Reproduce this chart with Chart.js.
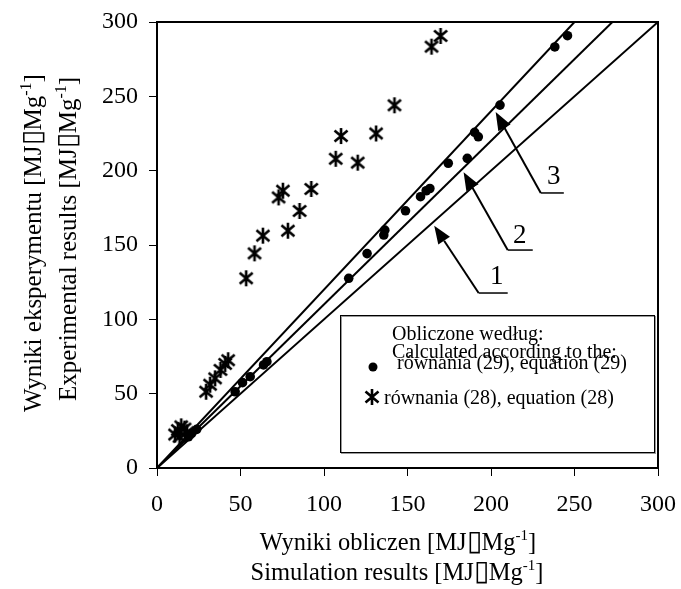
<!DOCTYPE html>
<html>
<head>
<meta charset="utf-8">
<script src="https://cdn.jsdelivr.net/npm/chart.js@4/dist/chart.umd.min.js"></script>
<style>
  html, body { margin: 0; padding: 0; background: #fff; }
  #wrap { width: 681px; height: 589px; }
</style>
</head>
<body>
<div id="wrap"><canvas id="chart" width="681" height="589"></canvas></div>
<script>
// --- dane: równanie (29) ---
const calc29X = [245.8, 238.2, 205.4, 190.2, 192.4, 185.8, 174.4, 163.4, 161.2, 157.8, 148.8, 136.4, 135.8, 125.8, 114.8, 65.8, 63.8, 55.8, 51.2, 46.8, 23.8, 20.8, 18.8];
const calc29Y = [290.8, 283.2, 244.1, 225.8, 222.8, 208.3, 205.0, 188.0, 186.5, 182.5, 173.0, 160.0, 156.7, 144.2, 127.6, 71.5, 69.3, 61.4, 57.4, 51.3, 26.0, 23.3, 21.0];

// --- dane: równanie (28) ---
const calc28X = [169.8, 164.4, 142.2, 131.2, 110.2, 107.0, 120.2, 92.4, 75.4, 72.8, 85.4, 78.4, 63.4, 58.4, 53.4, 42.6, 40.8, 38.0, 34.8, 31.8, 29.4, 10.8, 12.5, 14.5, 16.5, 18.0, 13.5];
const calc28Y = [290.6, 283.4, 244.0, 225.0, 223.3, 208.0, 205.4, 187.7, 186.5, 182.0, 172.9, 159.6, 156.3, 144.4, 127.6, 72.5, 70.0, 66.0, 60.3, 56.0, 51.3, 22.5, 25.5, 28.0, 26.5, 24.0, 21.0];

// proste 1, 2, 3 z początku układu do górnej krawędzi
const lineNames = ['1', '2', '3'];
const lineEndX = [300, 272.7, 250];
const lineEndY = [300, 300, 300];

const axisMin = 0;
const axisMax = 300;
const axisStep = 50;

const SERIF = '"Liberation Serif", "Times New Roman", serif';

// strzałki do prostych (współrzędne w jednostkach osi)
const arrows = [
  { tail: [192.6, 117.7], tip: [166.0, 163.0], shelf: 210.0, label: [203.4, 128.5] },
  { tail: [210.0, 146.6], tip: [183.6, 199.0], shelf: 225.0, label: [217.2, 156.0] },
  { tail: [229.8, 185.0], tip: [202.8, 239.4], shelf: 243.6, label: [237.6, 195.5] },
];

// znacznik gwiazdki
function makeStar() {
  const c = document.createElement('canvas');
  c.width = 18; c.height = 18;
  const g = c.getContext('2d');
  g.strokeStyle = '#000';
  g.lineWidth = 2.6;
  g.beginPath();
  g.moveTo(9, 1); g.lineTo(9, 17);
  g.moveTo(2.5, 3.5); g.lineTo(15.5, 14.5);
  g.moveTo(15.5, 3.5); g.lineTo(2.5, 14.5);
  g.stroke();
  return c;
}
const starImg = makeStar();

// tekst z jednostką [MJ▯Mg^-1]
function unitParts(text, size) {
  return [
    { t: text + ' [MJ', f: size + 'px ' + SERIF, dy: 0 },
    { t: '\u25AF', f: (size + 3) + 'px ' + SERIF, dy: 0 },
    { t: 'Mg', f: size + 'px ' + SERIF, dy: 0 },
    { t: '-1', f: Math.round(size * 0.62) + 'px ' + SERIF, dy: -size * 0.42 },
    { t: ']', f: size + 'px ' + SERIF, dy: 0 },
  ];
}

function drawParts(ctx, parts, cx, baseY) {
  let w = 0;
  parts.forEach(p => { ctx.font = p.f; p.w = ctx.measureText(p.t).width; w += p.w; });
  let x = cx - w / 2;
  ctx.textAlign = 'left';
  ctx.textBaseline = 'alphabetic';
  parts.forEach(p => { ctx.font = p.f; ctx.fillText(p.t, x, baseY + p.dy); x += p.w; });
}

function drawArrow(ctx, x0, y0, x1, y1) {
  const ang = Math.atan2(y1 - y0, x1 - x0);
  const len = 18, half = 7;
  const bx = x1 - len * Math.cos(ang), by = y1 - len * Math.sin(ang);
  ctx.beginPath();
  ctx.moveTo(x0, y0);
  ctx.lineTo(bx, by);
  ctx.stroke();
  ctx.beginPath();
  ctx.moveTo(x1, y1);
  ctx.lineTo(bx + half * Math.sin(ang), by - half * Math.cos(ang));
  ctx.lineTo(bx - half * Math.sin(ang), by + half * Math.cos(ang));
  ctx.closePath();
  ctx.fill();
}

const decor = {
  id: 'decor',
  afterDraw(chart) {
    const ctx = chart.ctx;
    const a = chart.chartArea;
    const sx = chart.scales.x, sy = chart.scales.y;
    ctx.save();
    ctx.fillStyle = '#000';
    ctx.strokeStyle = '#000';

    // ramka wykresu
    ctx.lineWidth = 2;
    ctx.strokeRect(a.left, a.top, a.right - a.left, a.bottom - a.top);

    // strzałki z numerami prostych
    ctx.lineWidth = 2;
    arrows.forEach((ar, i) => {
      const tx = sx.getPixelForValue(ar.tail[0]), ty = sy.getPixelForValue(ar.tail[1]);
      const px = sx.getPixelForValue(ar.tip[0]), py = sy.getPixelForValue(ar.tip[1]);
      drawArrow(ctx, tx, ty, px, py);
      ctx.lineWidth = 1.5;
      ctx.beginPath();
      ctx.moveTo(tx, ty);
      ctx.lineTo(sx.getPixelForValue(ar.shelf), ty);
      ctx.stroke();
      ctx.lineWidth = 2;
      ctx.font = '27px ' + SERIF;
      ctx.textAlign = 'center';
      ctx.textBaseline = 'middle';
      ctx.fillText(lineNames[i], sx.getPixelForValue(ar.label[0]), sy.getPixelForValue(ar.label[1]));
    });

    // legenda
    const lx = 340, ly = 315, lw = 314, lh = 137;
    ctx.fillStyle = '#fff';
    ctx.fillRect(lx, ly, lw, lh);
    ctx.lineWidth = 1;
    ctx.strokeStyle = '#999';
    ctx.strokeRect(lx + 1.5, ly + 1.5, lw, lh);
    ctx.strokeStyle = '#000';
    ctx.strokeRect(lx + 0.5, ly + 0.5, lw, lh);
    ctx.fillStyle = '#000';
    ctx.font = '20px ' + SERIF;
    ctx.textAlign = 'left';
    ctx.textBaseline = 'alphabetic';
    ctx.fillText('Obliczone według:', 392, 340);
    ctx.fillText('Calculated according to the:', 392, 358);
    ctx.fillText(' równania (29), equation (29)', 392, 369);
    ctx.fillText('równania (28), equation (28)', 384, 404);
    ctx.beginPath();
    ctx.arc(373, 367, 4.5, 0, Math.PI * 2);
    ctx.fill();
    ctx.drawImage(starImg, 372 - 9, 397 - 9);

    // opisy osi
    drawParts(ctx, unitParts('Wyniki obliczen', 24.5), 398, 550);
    drawParts(ctx, unitParts('Simulation results', 24.5), 397, 580);
    ctx.save();
    ctx.translate(41, 243);
    ctx.rotate(-Math.PI / 2);
    drawParts(ctx, unitParts('Wyniki eksperymentu', 25), 0, 0);
    ctx.restore();
    ctx.save();
    ctx.translate(76, 239);
    ctx.rotate(-Math.PI / 2);
    drawParts(ctx, unitParts('Experimental results', 25), 0, 0);
    ctx.restore();

    ctx.restore();
  }
};

const pointsOf = (xs, ys) => xs.map((x, i) => ({ x, y: ys[i] }));

const lineSets = lineNames.map((n, i) => ({
  label: 'prosta ' + n,
  data: [{ x: 0, y: 0 }, { x: lineEndX[i], y: lineEndY[i] }],
  showLine: true,
  borderColor: '#000',
  borderWidth: 2,
  pointRadius: 0,
}));

const axisCommon = {
  type: 'linear',
  min: axisMin,
  max: axisMax,
  grid: { display: true, drawOnChartArea: false, tickLength: 8, color: '#000', lineWidth: 1 },
  border: { display: true, color: '#000', width: 2 },
};

new Chart(document.getElementById('chart').getContext('2d'), {
  type: 'scatter',
  data: {
    datasets: [
      ...lineSets,
      {
        label: 'równania (29), equation (29)',
        data: pointsOf(calc29X, calc29Y),
        pointStyle: 'circle',
        pointRadius: 4.8,
        backgroundColor: '#000',
        borderColor: '#000',
        borderWidth: 0,
      },
      {
        label: 'równania (28), equation (28)',
        data: pointsOf(calc28X, calc28Y),
        pointStyle: starImg,
        pointRadius: 9,
      },
    ],
  },
  options: {
    responsive: false,
    animation: false,
    layout: { padding: { top: 22, right: 23, left: 0, bottom: 0 } },
    plugins: { legend: { display: false }, tooltip: { enabled: false } },
    scales: {
      x: {
        ...axisCommon,
        ticks: { stepSize: axisStep, color: '#000', padding: 14, font: { family: SERIF, size: 24 } },
        afterFit(s) { s.height = 121; s.paddingLeft = 0; s.paddingRight = 0; },
      },
      y: {
        ...axisCommon,
        ticks: { stepSize: axisStep, color: '#000', padding: 11, font: { family: SERIF, size: 24 } },
        afterFit(s) { s.width = 157; s.paddingTop = 0; s.paddingBottom = 0; },
      },
    },
  },
  plugins: [decor],
});
</script>
</body>
</html>
